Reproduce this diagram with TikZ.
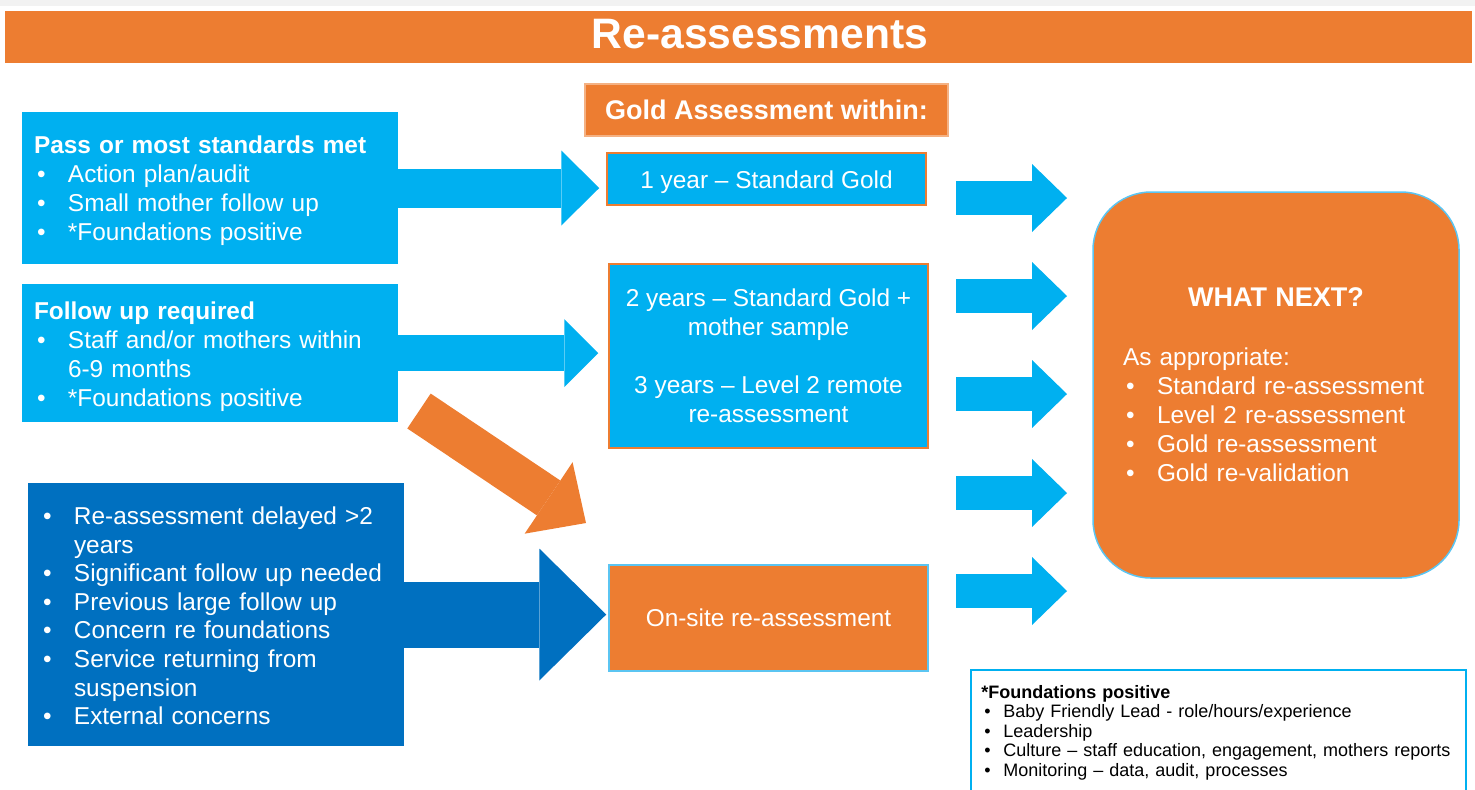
\documentclass[tikz,border=0pt]{standalone}
\usepackage{fontspec}
\setmainfont{Liberation Sans}
\usetikzlibrary{arrows.meta, positioning}
\definecolor{orng}{HTML}{ED7D31}
\definecolor{sky}{HTML}{00B0F0}
\definecolor{deep}{HTML}{0070C0}
\definecolor{pale}{HTML}{F4B183}
\definecolor{rim}{HTML}{5BC5F2}
\newcommand\boxfont{\fontsize{12.2}{14.5}\selectfont}
\newcommand\bmark[2][17pt]{\hangindent=#1\hangafter=1\makebox[#1][l]{\hspace{1.5pt}\textbullet}#2}
\newcommand\bitem[2][17pt]{\par\noindent\bmark[#1]{#2}}
\tikzstyle{lbox} = [rectangle, text=white, font=\boxfont, minimum width=188pt, text width=176pt, inner xsep=6pt, align=left]
\tikzstyle{mbox} = [rectangle, text=white, font=\boxfont, minimum width=159.5pt, align=center, line width=0.75pt]
\tikzset{fat/.style n args={3}{line width=#1, -{Triangle[width=#2, length=#3, line width=0pt]}}}

\begin{document}
\begin{tikzpicture}[x=0.5pt, y=-0.5pt]
        \useasboundingbox (0,0) rectangle (1475,789);
        \clip (0,0) rectangle (1475,789);
        \fill[black!5] (0,0) rectangle (1475,6);

        \node (bar) [fill=orng, minimum width=733.5pt, minimum height=26pt] at (738.5,37) {};
        \node (title) [text=white, font=\fontsize{21.3}{24}\selectfont\bfseries] at (760,34) {Re-assessments};

        % left column
        \node (pass) [lbox, fill=sky, minimum height=76pt] at (210,188) {\rule{0pt}{11.7pt}\textbf{Pass or most standards met}\bitem{Action plan/audit}\bitem{Small mother follow up}\bitem{*Foundations positive}};
        \node (follow) [lbox, fill=sky, minimum height=69pt] at (210,353) {\rule{0pt}{12.2pt}\textbf{Follow up required}\bitem{Staff and/or mothers within\newline 6-9 months}\bitem{*Foundations positive}};
        \node (delay) [lbox, fill=deep, minimum height=131.5pt, font=\fontsize{12.2}{14.3}\selectfont] at (216,614.5) {\rule{0pt}{10.2pt}\bmark{Re-assessment delayed >2\newline years}\bitem{Significant follow up needed}\bitem{Previous large follow up}\bitem{Concern re foundations}\bitem{Service returning from\newline suspension}\bitem{External concerns}};

        % middle column
        \node (gold) [mbox, fill=orng, draw=pale, minimum width=181.5pt, minimum height=26pt, font=\fontsize{13.5}{16}\selectfont\bfseries] at (766.5,110) {Gold Assessment within:};
        \node (year1) [mbox, fill=sky, draw=orng, minimum height=26pt, text height=12pt] at (766.5,179) {1 year – Standard Gold};
        \node (year23) [mbox, fill=sky, draw=orng, minimum height=92pt] at (768.5,356) {2 years – Standard Gold +\\mother sample\\[14.5pt]3 years – Level 2 remote\\re-assessment};
        \node (onsite) [mbox, fill=orng, draw=rim, minimum height=53pt] at (768.5,618) {On-site re-assessment};

        % right side
        \node (next) [rectangle, rounded corners=29pt, fill=orng, draw=rim, line width=0.75pt, text=white, font=\boxfont, minimum width=183pt, minimum height=193pt, text width=153pt, inner xsep=15pt, align=left] at (1276,385) {{\centering\fontsize{13.5}{16}\selectfont\bfseries WHAT NEXT?\par}\vspace{15pt}As appropriate:\bitem{Standard re-assessment}\bitem{Level 2 re-assessment}\bitem{Gold re-assessment}\bitem{Gold re-validation}};

        \node (frame) [rectangle, draw=sky, line width=1pt, fill=white, minimum width=247.5pt, minimum height=65pt] at (1218.5,735) {};
        \node (found) [anchor=north west, inner sep=0pt, text width=240pt, align=left, font=\fontsize{9}{9.7}\selectfont] at (981,685) {\textbf{*Foundations positive}\bitem[11pt]{Baby Friendly Lead - role/hours/experience}\bitem[11pt]{Leadership}\bitem[11pt]{Culture – staff education, engagement, mothers reports}\bitem[11pt]{Monitoring – data, audit, processes}};

        % block arrows
        \draw [fat={19.5pt}{37.5pt}{19pt}, sky, shorten >=3.5pt] (pass.east) -- (pass.east -| year1.west);
        \draw [fat={18pt}{34pt}{17pt}, sky, shorten >=5pt] (follow.east) -- (follow.east -| year23.west);
        \draw [fat={33pt}{66pt}{33.5pt}, deep, shorten >=1pt] (delay.east) -- (delay.east -| onsite.west);

        \coordinate (otail) at (419,411);
        \coordinate (otip) at (586,523);
        \draw [fat={21pt}{43pt}{22.5pt}, orng] (otail) -- (otip);

        \foreach \y [count=\i] in {198,296,394,493,591} {
            \coordinate (r\i) at (956,\y);
            \draw [fat={17pt}{34pt}{17.5pt}, sky] (r\i) -- ++(111,0);
        }

    \end{tikzpicture}
\end{document}
